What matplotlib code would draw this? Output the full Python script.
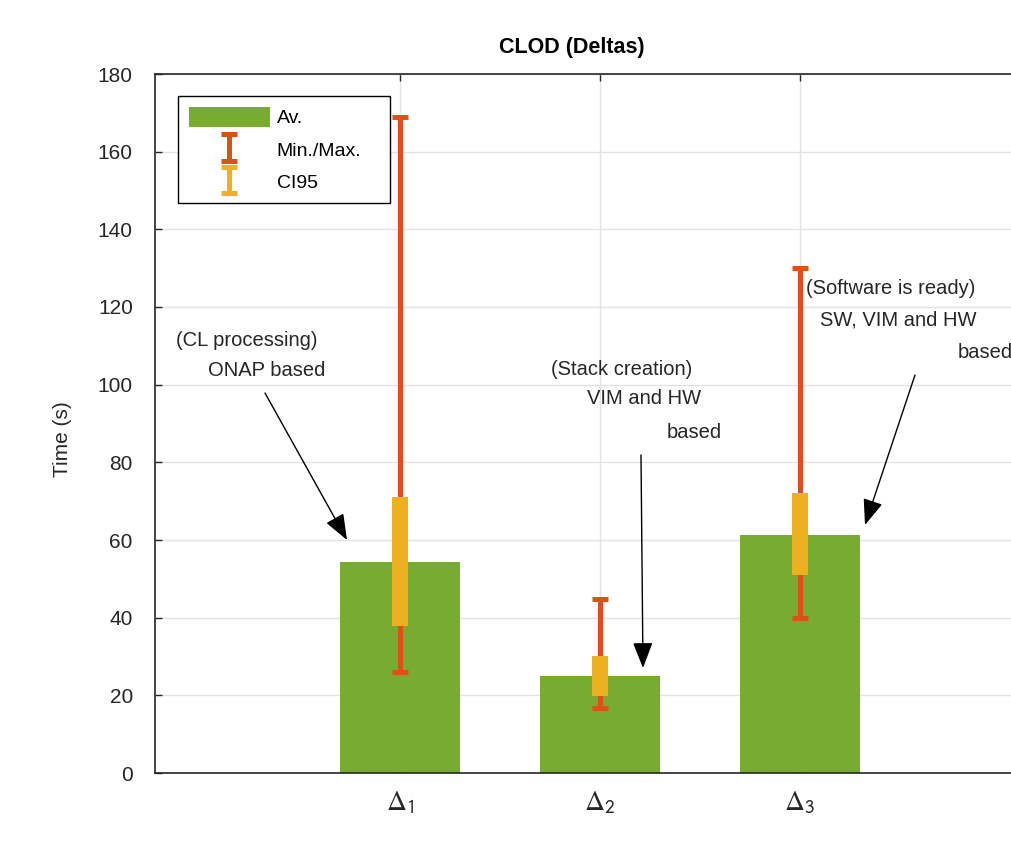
import numpy as np
import matplotlib
matplotlib.use("Agg")
import matplotlib.pyplot as plt
from matplotlib.legend_handler import HandlerErrorbar

plt.rcParams['font.family'] = ['Liberation Sans', 'DejaVu Sans']
plt.rcParams['mathtext.fontset'] = 'stix'

# ---- data ----
categories = [r'$\Delta_\mathsf{1}$', r'$\Delta_\mathsf{2}$', r'$\Delta_\mathsf{3}$']
avg = [54.3, 25.0, 61.3]
mins = [26.0, 16.7, 39.9]
maxs = [169.0, 44.8, 130.0]
ci_lo = [37.9, 19.8, 51.0]
ci_hi = [71.1, 30.1, 72.1]
yticks = [0, 20, 40, 60, 80, 100, 120, 140, 160, 180]

GREEN = '#77AC30'
ORANGE = '#D95319'
YELLOW = '#EDB120'
DARK = '#262626'

W, H = 1012, 846
fig = plt.figure(figsize=(W / 100, H / 100), dpi=100)
ax = fig.add_axes([155 / W, (H - 773) / H, 890 / W, 699 / H])

x = np.arange(1, len(categories) + 1)
avg_a = np.array(avg)

ax.bar(x, avg_a, width=0.6, color=GREEN, edgecolor='none', zorder=2, label='Av.')

mm = ax.errorbar(x, avg_a, yerr=[avg_a - np.array(mins), np.array(maxs) - avg_a],
                 fmt='none', ecolor=ORANGE, elinewidth=3.6, capsize=6, capthick=3.6,
                 zorder=3, label='Min./Max.')
ax.errorbar(x, avg_a, yerr=[avg_a - np.array(ci_lo), np.array(ci_hi) - avg_a],
            fmt='none', ecolor=YELLOW, elinewidth=11.5, capsize=0,
            zorder=4, label='_nolegend_')
# legend proxy for CI95
ci_proxy = ax.errorbar([np.nan], [np.nan], yerr=[[1], [1]], fmt='none', ecolor=YELLOW,
                       elinewidth=3.6, capsize=6, capthick=3.6, label='CI95')

ax.set_xlim(-0.225, 4.225)
ax.set_ylim(0, 180)
ax.set_xticks(x)
ax.set_xticklabels(categories, fontsize=20)
ax.set_yticks(yticks)
ax.set_yticklabels([str(v) for v in yticks], fontsize=15)

ax.grid(True, color='#e3e3e3', linewidth=1.0, zorder=0)
ax.set_axisbelow(True)
for s in ax.spines.values():
    s.set_color(DARK)
    s.set_linewidth(1.2)
ax.tick_params(axis='both', direction='in', length=5, width=1.0, color=DARK,
               top=True, right=True, labelcolor=DARK)
ax.tick_params(axis='y', pad=16)
ax.tick_params(axis='x', pad=12)

handles, labels = ax.get_legend_handles_labels()
leg = ax.legend(handles, labels, loc='upper left', mode='expand',
                bbox_to_anchor=((178 - 155) / 890, (773 - 204) / 699, 212 / 890, 108 / 699),
                borderaxespad=0, fontsize=14, frameon=True, fancybox=False,
                edgecolor='black', framealpha=1, handlelength=4.17, handleheight=1.2,
                handletextpad=0.35, labelspacing=0.62, borderpad=0.55,
                handler_map={type(mm): HandlerErrorbar(yerr_size=0.68)})
leg.get_frame().set_linewidth(1.0)

# ---- annotations ----
def px2d(px, py):
    return ((px - 400) / 200 + 1, (773 - py) / (699 / 180))

texts = [
    ('(CL processing)', 176, 340),
    ('ONAP based', 208, 370),
    ('(Stack creation)', 551, 369),
    ('VIM and HW', 587, 398),
    ('based', 667, 433),
    ('(Software is ready)', 806, 288),
    ('SW, VIM and HW', 820, 320),
    ('based', 958, 353),
]
for t, px, py in texts:
    xd, yd = px2d(px, py)
    ax.text(xd, yd, t, fontsize=14.5, color=DARK, ha='left', va='center',
            zorder=6, clip_on=False)

arrows = [((265, 393), (347, 540)), ((641, 455), (643, 668)), ((915, 375), (865, 525))]
for (sx, sy), (ex, ey) in arrows:
    ax.annotate('', xy=px2d(ex, ey), xytext=px2d(sx, sy),
                arrowprops=dict(arrowstyle='-|>,head_length=1.6,head_width=0.62',
                                color='black', lw=1.0, shrinkA=0, shrinkB=0),
                zorder=7)

fig.text(572 / W, 1 - 47 / H, 'CLOD (Deltas)', fontsize=15.5, fontweight='bold',
         ha='center', va='center', color='black')
fig.text(63 / W, 1 - 439 / H, 'Time (s)', fontsize=15, rotation=90,
         ha='center', va='center', color=DARK)

fig.savefig('out.png', dpi=100)
